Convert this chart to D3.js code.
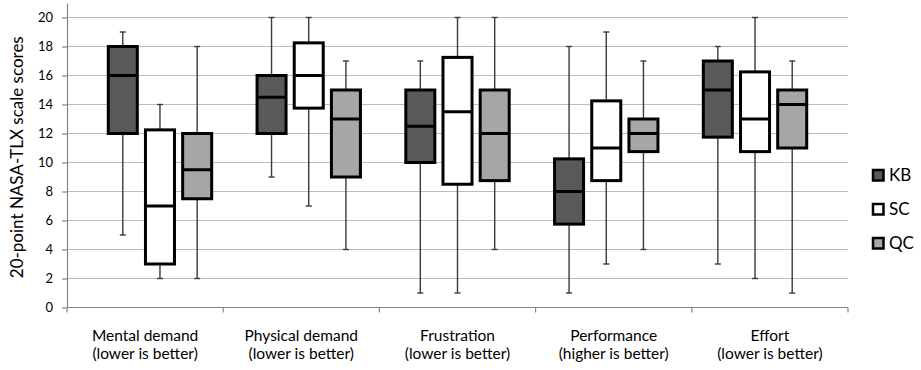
<!DOCTYPE html>
<html>
<head>
<meta charset="utf-8">
<script src="https://cdn.jsdelivr.net/npm/d3@7"></script>
<style>
    body { margin: 0; background: #fff; }
    text { font-family: Lato, "Open Sans", sans-serif; fill: #000; }
</style>
</head>
<body>
<div id="chart"></div>
<script>
// categories and their second label line
let categories = ["Mental demand", "Physical demand", "Frustration", "Performance", "Effort"];
let subLabels = ["(lower is better)", "(lower is better)", "(lower is better)", "(higher is better)", "(lower is better)"];

let seriesNames = ["KB", "SC", "QC"];
let seriesFill = ["#595959", "#ffffff", "#a6a6a6"];

// five-number summaries per category: [min, q1, median, q3, max]
let kbStats = [[5, 12, 16, 18, 19], [9, 12, 14.5, 16, 20], [1, 10, 12.5, 15, 17], [1, 5.75, 8, 10.25, 18], [3, 11.75, 15, 17, 18]];
let scStats = [[2, 3, 7, 12.25, 14], [7, 13.75, 16, 18.25, 20], [1, 8.5, 13.5, 17.25, 20], [3, 8.75, 11, 14.25, 19], [2, 10.75, 13, 16.25, 20]];
let qcStats = [[2, 7.5, 9.5, 12, 18], [4, 9, 13, 15, 17], [4, 8.75, 12, 15, 20], [4, 10.75, 12, 13, 17], [1, 11, 14, 15, 17]];

let yTicks = [0, 2, 4, 6, 8, 10, 12, 14, 16, 18, 20];

let width = 921, height = 370;
let margin = {top: 3, left: 67, right: 73, bottom: 62.5};

let svg = d3.select("#chart").append("svg")
    .attr("width", width)
    .attr("height", height);

let y = d3.scaleLinear()
    .domain([0, 21])
    .range([height - margin.bottom, margin.top]);

// each box sits in its own slot; one empty slot between the groups
let nSlots = categories.length * (seriesNames.length + 1) + 1;
let slot = d3.scaleBand()
    .domain(d3.range(nSlots))
    .range([margin.left, width - margin.right])
    .paddingInner(0.22)
    .paddingOuter(0.11);

let xCat = d3.scaleBand()
    .domain(categories)
    .range([margin.left, width - margin.right]);

// gridlines
svg.append("g")
    .selectAll("line")
    .data(yTicks.filter(d => d > 0))
    .enter().append("line")
    .attr("x1", margin.left)
    .attr("x2", width - margin.right)
    .attr("y1", d => y(d))
    .attr("y2", d => y(d))
    .style("stroke", "#bdbdbd")
    .style("stroke-width", 1.2);

// y axis
let yAxis = svg.append("g")
    .attr("transform", `translate(${margin.left},0)`)
    .call(d3.axisLeft(y).tickValues(yTicks).tickSize(5).tickPadding(9).tickSizeOuter(0));
yAxis.select(".domain").style("stroke", "#868686").style("stroke-width", 1.2);
yAxis.selectAll(".tick line").style("stroke", "#868686").style("stroke-width", 1.2);
yAxis.selectAll(".tick text")
    .style("font-family", "Lato, 'Open Sans', sans-serif")
    .style("font-size", "13px")
    .style("fill", "#000");

// x axis line + ticks between categories
let xBase = y(0);
svg.append("line")
    .attr("x1", margin.left)
    .attr("x2", width - margin.right)
    .attr("y1", xBase)
    .attr("y2", xBase)
    .style("stroke", "#868686")
    .style("stroke-width", 1.2);

let boundaries = categories.map(c => xCat(c)).concat([xCat.range()[1]]);
svg.append("g")
    .selectAll("line")
    .data(boundaries)
    .enter().append("line")
    .attr("x1", d => d)
    .attr("x2", d => d)
    .attr("y1", xBase)
    .attr("y2", xBase + 5)
    .style("stroke", "#868686")
    .style("stroke-width", 1.2);

// category labels, two separate lines
let catX = d => xCat(d) + xCat.bandwidth() / 2;
svg.append("g")
    .selectAll("text")
    .data(categories)
    .enter().append("text")
    .attr("text-anchor", "middle")
    .attr("x", catX)
    .attr("y", xBase + 33)
    .style("font-size", "15.5px")
    .text(d => d);
svg.append("g")
    .selectAll("text")
    .data(categories)
    .enter().append("text")
    .attr("text-anchor", "middle")
    .attr("x", catX)
    .attr("y", xBase + 51.5)
    .style("font-size", "15.5px")
    .text((d, i) => subLabels[i]);

// y axis title
svg.append("text")
    .attr("transform", `translate(23, ${(margin.top + xBase) / 2 + 2}) rotate(-90)`)
    .attr("text-anchor", "middle")
    .style("font-size", "17px")
    .text("20-point NASA-TLX scale scores");

// boxes
let allStats = [kbStats, scStats, qcStats];
let boxes = [];
allStats.forEach(function(stats, s) {
    stats.forEach(function(v, c) {
        boxes.push({series: s, cat: c, min: v[0], q1: v[1], med: v[2], q3: v[3], max: v[4]});
    });
});

let slotOf = d => d.cat * (seriesNames.length + 1) + d.series + 1;
let cx = d => slot(slotOf(d)) + slot.bandwidth() / 2;
let capW = 6;

let boxG = svg.append("g");

// whiskers
boxG.selectAll(".whisker")
    .data(boxes)
    .enter().append("line")
    .attr("class", "whisker")
    .attr("x1", cx).attr("x2", cx)
    .attr("y1", d => y(d.min))
    .attr("y2", d => y(d.max))
    .style("stroke", "#3a3a3a")
    .style("stroke-width", 1.4);

["min", "max"].forEach(function(k) {
    boxG.selectAll(".cap-" + k)
        .data(boxes)
        .enter().append("line")
        .attr("class", "cap-" + k)
        .attr("x1", d => cx(d) - capW / 2)
        .attr("x2", d => cx(d) + capW / 2)
        .attr("y1", d => y(d[k]))
        .attr("y2", d => y(d[k]))
        .style("stroke", "#3a3a3a")
        .style("stroke-width", 1.4);
});

boxG.selectAll("rect")
    .data(boxes)
    .enter().append("rect")
    .attr("x", d => slot(slotOf(d)))
    .attr("width", slot.bandwidth())
    .attr("y", d => y(d.q3))
    .attr("height", d => y(d.q1) - y(d.q3))
    .style("fill", d => seriesFill[d.series])
    .style("stroke", "#000")
    .style("stroke-width", 3);

boxG.selectAll(".median")
    .data(boxes)
    .enter().append("line")
    .attr("class", "median")
    .attr("x1", d => slot(slotOf(d)))
    .attr("x2", d => slot(slotOf(d)) + slot.bandwidth())
    .attr("y1", d => y(d.med))
    .attr("y2", d => y(d.med))
    .style("stroke", "#000")
    .style("stroke-width", 3);

// legend
let legend = svg.append("g")
    .selectAll("g")
    .data(seriesNames)
    .enter().append("g")
    .attr("transform", (d, i) => `translate(873, ${170 + i * 34})`);
legend.append("rect")
    .attr("width", 10.5)
    .attr("height", 10.5)
    .style("fill", (d, i) => seriesFill[i])
    .style("stroke", "#000")
    .style("stroke-width", 2.5);
legend.append("text")
    .attr("x", 16)
    .attr("y", 11)
    .style("font-size", "17px")
    .text(d => d);
</script>
</body>
</html>
